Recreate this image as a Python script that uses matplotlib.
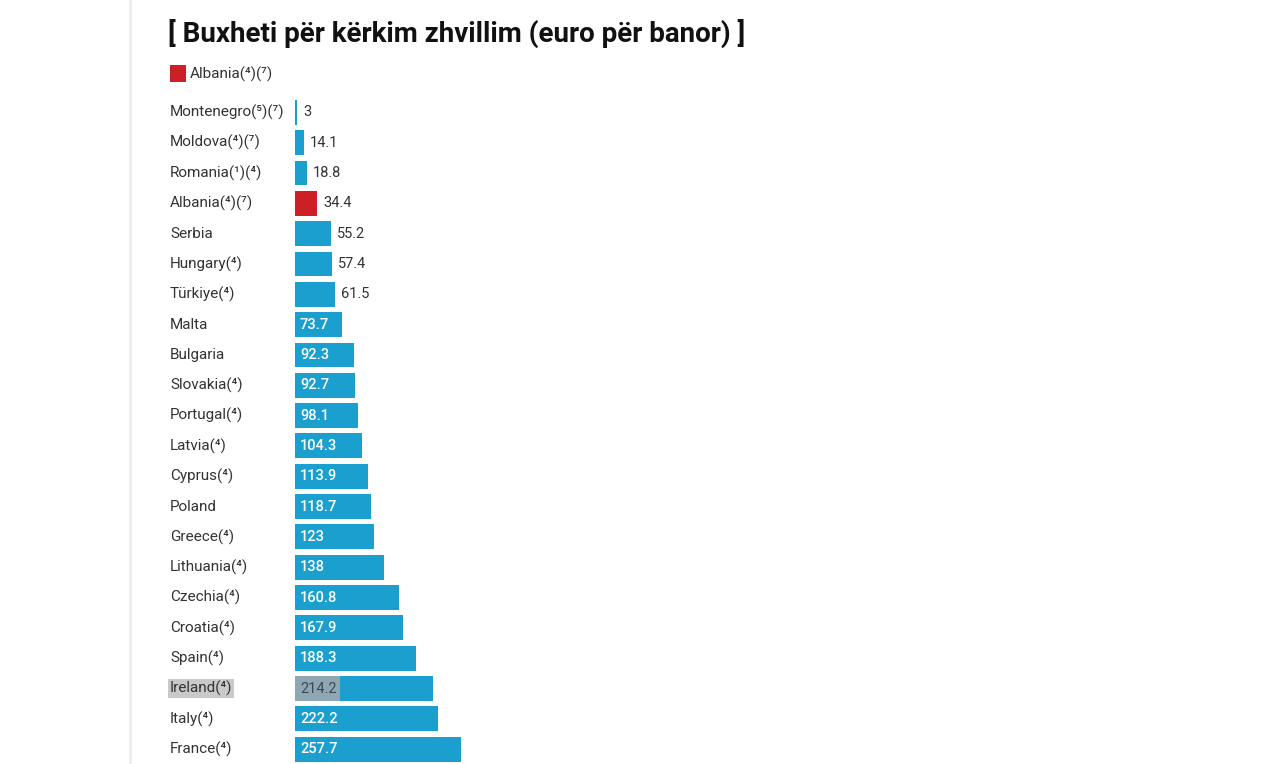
import matplotlib
matplotlib.use("Agg")
import matplotlib.pyplot as plt
import matplotlib.transforms as mtransforms
from matplotlib.patches import Rectangle

countries = ["Montenegro(⁵)(⁷)", "Moldova(⁴)(⁷)", "Romania(¹)(⁴)", "Albania(⁴)(⁷)",
             "Serbia", "Hungary(⁴)", "Türkiye(⁴)", "Malta", "Bulgaria", "Slovakia(⁴)",
             "Portugal(⁴)", "Latvia(⁴)", "Cyprus(⁴)", "Poland", "Greece(⁴)",
             "Lithuania(⁴)", "Czechia(⁴)", "Croatia(⁴)", "Spain(⁴)", "Ireland(⁴)",
             "Italy(⁴)", "France(⁴)"]
values = [3, 14.1, 18.8, 34.4, 55.2, 57.4, 61.5, 73.7, 92.3, 92.7, 98.1, 104.3,
          113.9, 118.7, 123, 138, 160.8, 167.9, 188.3, 214.2, 222.2, 257.7]
value_labels = ["3", "14.1", "18.8", "34.4", "55.2", "57.4", "61.5", "73.7", "92.3",
                "92.7", "98.1", "104.3", "113.9", "118.7", "123", "138", "160.8",
                "167.9", "188.3", "214.2", "222.2", "257.7"]
highlight = "Albania(⁴)(⁷)"
selected = "Ireland(⁴)"
title = "[ Buxheti për kërkim zhvillim (euro për banor) ]"

FAM = ["Roboto", "DejaVu Sans"]
plt.rcParams['font.family'] = FAM

W, H = 1266, 764
fig = plt.figure(figsize=(W / 100, H / 100), dpi=100)
fig.patch.set_facecolor("white")

# faint left border line
fig.add_artist(plt.Line2D([129.5 / W, 129.5 / W], [0, 1], color="#eeeeee", lw=2,
                          transform=fig.transFigure))

px_per_unit = 0.644
left_px, right_px = 295, 1200
row = 30.33
first = 112.3
top_px = first - row / 2
n = len(values)
bottom_row = (H - first) / row
ax = fig.add_axes([left_px / W, 0, (right_px - left_px) / W, (H - top_px) / H])
ax.set_xlim(0, (right_px - left_px) / px_per_unit)
ax.set_ylim(bottom_row, -0.5)
ax.axis("off")

blue = "#1b9fcf"
red = "#cc1f26"
ys = list(range(n))
colors = [red if c == highlight else blue for c in countries]
ax.barh(ys, values, height=0.82, color=colors, edgecolor="none")

lab_tr = mtransforms.blended_transform_factory(fig.transFigure, ax.transData)
for i, (c, v, vl) in enumerate(zip(countries, values, value_labels)):
    bb = None
    if c == selected:
        bb = dict(boxstyle="square,pad=0.12", facecolor="#c9c9c9", edgecolor="none")
    ax.text(170 / W, i, c, transform=lab_tr, ha="left", va="center",
            fontsize=11, color="#333333", bbox=bb)
    if v < 70:
        ax.text(v + 6 / px_per_unit, i, vl, ha="left", va="center",
                fontsize=10.5, color="#333333")
    elif c == selected:
        ax.add_patch(Rectangle((0, i - 0.41), 45 / px_per_unit, 0.82,
                               facecolor="#8fa6b3", edgecolor="none", zorder=3))
        ax.text(5 / px_per_unit, i, vl, ha="left", va="center",
                fontsize=10.5, color="#3a4a55", zorder=4)
    else:
        ax.text(5 / px_per_unit, i, vl, ha="left", va="center",
                fontsize=10.5, color="white", fontweight="medium")

fig.text(168 / W, 1 - 33 / H, title, ha="left", va="center", fontsize=20,
         fontweight="bold", color="#111111")

fig.add_artist(Rectangle((170 / W, 1 - 82 / H), 16 / W, 17 / H, facecolor=red,
                         edgecolor="none", transform=fig.transFigure))
fig.text(190 / W, 1 - 74 / H, highlight, ha="left", va="center", fontsize=11,
         color="#333333")

fig.savefig("out.png", dpi=100, facecolor="white")
